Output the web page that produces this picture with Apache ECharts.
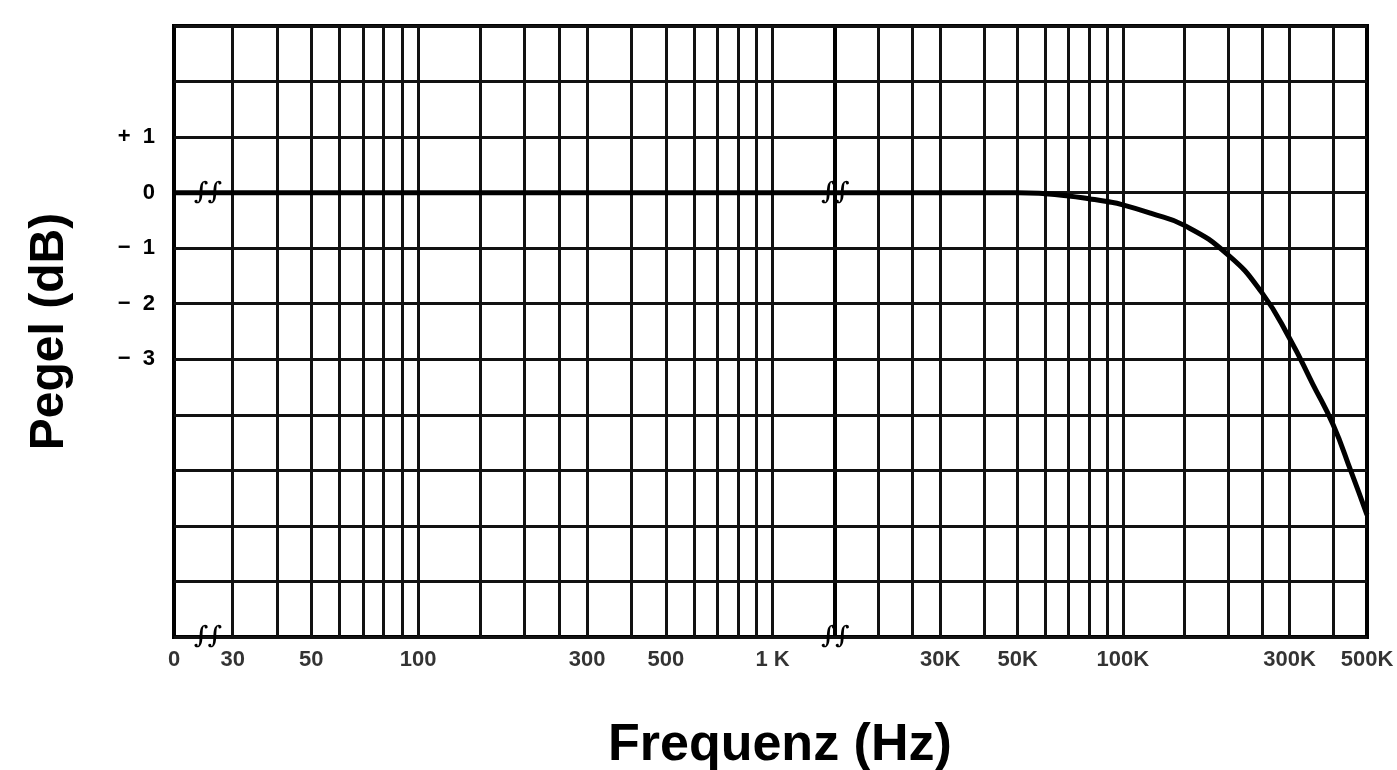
<!DOCTYPE html>
<html>
<head>
<meta charset="utf-8">
<title>Pegel / Frequenz</title>
<script src="https://cdn.jsdelivr.net/npm/echarts@6/dist/echarts.min.js"></script>
<style>
  html, body { margin: 0; padding: 0; background: #fff; }
  #chart { width: 1397px; height: 770px; }
</style>
</head>
<body>
<div id="chart"></div>
<script>
// Frequenzgang, log. Achse unterbrochen zwischen 1,5K und 15K
var lowMin = 20.5, lowMax = 1500;
var highMin = 15000, highMax = 500000;

var freqLow = [20.5, 30, 100, 300, 1000, 1500];
var levelLow = [0, 0, 0, 0, 0, 0];
var freqHigh = [15000, 20000, 30000, 40000, 50000, 60000, 70000, 80000, 90000, 100000, 120000, 150000, 200000, 250000, 300000, 350000, 400000, 450000, 500000];
var levelHigh = [0, 0, 0, 0, 0, -0.02, -0.06, -0.11, -0.16, -0.22, -0.37, -0.59, -1.12, -1.8, -2.62, -3.45, -4.18, -5.02, -5.8];

// senkrechte Netzlinien
var gridFreqLow = [30, 40, 50, 60, 70, 80, 90, 100, 150, 200, 250, 300, 400, 500, 600, 700, 800, 900, 1000];
var gridFreqHigh = [20000, 25000, 30000, 40000, 50000, 60000, 70000, 80000, 90000, 100000, 150000, 200000, 250000, 300000, 400000];

var tickFreqLow = [20.5, 30, 50, 100, 300, 500, 1000];
var tickLabelLow = ['0', '30', '50', '100', '300', '500', '1 K'];
var tickFreqHigh = [30000, 50000, 100000, 300000, 500000];
var tickLabelHigh = ['30K', '50K', '100K', '300K', '500K'];

var yTickValues = [1, 0, -1, -2, -3];
var yTickLabels = ['+  1', '0', '\u2212  1', '\u2212  2', '\u2212  3'];

// Bruchzeichen
var breakLow = [[25.5, 0], [25.5, -8]];
var breakHigh = [[15000, 0], [15000, -8]];

var FONT = '"Liberation Sans", Arial, sans-serif';
var INK = '#111';

function pairs(xs, ys) {
  return xs.map(function (x, i) { return [x, ys[i]]; });
}

function tickSeries(idx, freqs, labels, gridFreqs) {
  return {
    type: 'scatter',
    xAxisIndex: idx,
    yAxisIndex: idx,
    z: 1,
    symbolSize: 0,
    silent: true,
    data: freqs.map(function (f, i) { return { name: labels[i], value: [f, -8] }; }),
    label: {
      show: true,
      position: 'bottom',
      distance: 12,
      formatter: '{b}',
      color: '#000',
      fontSize: 22,
      fontWeight: 'bold',
      fontFamily: FONT
    },
    markLine: {
      silent: true,
      symbol: ['none', 'none'],
      label: { show: false },
      lineStyle: { color: INK, width: 3, type: 'solid' },
      emphasis: { disabled: true },
      data: gridFreqs.map(function (f) { return { xAxis: f }; })
    }
  };
}

function curveSeries(idx, xs, ys, breaks) {
  return {
    type: 'line',
    xAxisIndex: idx,
    yAxisIndex: idx,
    z: 5,
    smooth: 0.5,
    showSymbol: false,
    symbol: 'none',
    data: pairs(xs, ys),
    lineStyle: { color: '#000', width: 5 },
    markPoint: {
      silent: true,
      symbol: 'circle',
      symbolSize: 0,
      label: {
        show: true,
        formatter: '\u222B\u222B',
        color: '#000',
        fontSize: 24,
        fontStyle: 'italic',
        fontWeight: 'bold',
        fontFamily: '"DejaVu Serif", serif'
      },
      data: breaks.map(function (c) { return { coord: c }; })
    }
  };
}

var yBase = {
  type: 'value',
  min: -8,
  max: 3,
  interval: 1,
  axisLine: { show: false },
  axisTick: { show: false },
  splitLine: { show: true, lineStyle: { color: INK, width: 3 } }
};

var chart = echarts.init(document.getElementById('chart'));
chart.setOption({
  animation: false,
  backgroundColor: '#fff',
  title: {
    text: 'Frequenz (Hz)',
    left: 603,
    top: 715,
    textStyle: { fontSize: 52, fontWeight: 'bold', color: '#000', fontFamily: FONT }
  },
  grid: [
    { left: 174, right: 562, top: 26, bottom: 133, show: true, borderColor: '#000', borderWidth: 4, outerBoundsMode: 'none' },
    { left: 835, right: 30, top: 26, bottom: 133, show: true, borderColor: '#000', borderWidth: 4, outerBoundsMode: 'none' }
  ],
  xAxis: [
    {
      type: 'log', gridIndex: 0, min: lowMin, max: lowMax, logBase: 10,
      axisLine: { show: false }, axisTick: { show: false }, axisLabel: { show: false }, splitLine: { show: false }
    },
    {
      type: 'log', gridIndex: 1, min: highMin, max: highMax, logBase: 10,
      axisLine: { show: false }, axisTick: { show: false }, axisLabel: { show: false }, splitLine: { show: false }
    }
  ],
  yAxis: [
    Object.assign({}, yBase, {
      gridIndex: 0,
      name: 'Pegel (dB)',
      nameLocation: 'middle',
      nameGap: 100,
      nameTextStyle: { fontSize: 48, fontWeight: 'bold', color: '#000', fontFamily: FONT },
      axisLabel: {
        margin: 19,
        color: '#000',
        fontSize: 22,
        fontWeight: 'bold',
        fontFamily: FONT,
        formatter: function (v) {
          var i = yTickValues.indexOf(v);
          return i < 0 ? '' : yTickLabels[i];
        }
      }
    }),
    Object.assign({}, yBase, { gridIndex: 1, axisLabel: { show: false } })
  ],
  series: [
    tickSeries(0, tickFreqLow, tickLabelLow, gridFreqLow),
    tickSeries(1, tickFreqHigh, tickLabelHigh, gridFreqHigh),
    curveSeries(0, freqLow, levelLow, breakLow),
    curveSeries(1, freqHigh, levelHigh, breakHigh)
  ]
});
</script>
</body>
</html>
